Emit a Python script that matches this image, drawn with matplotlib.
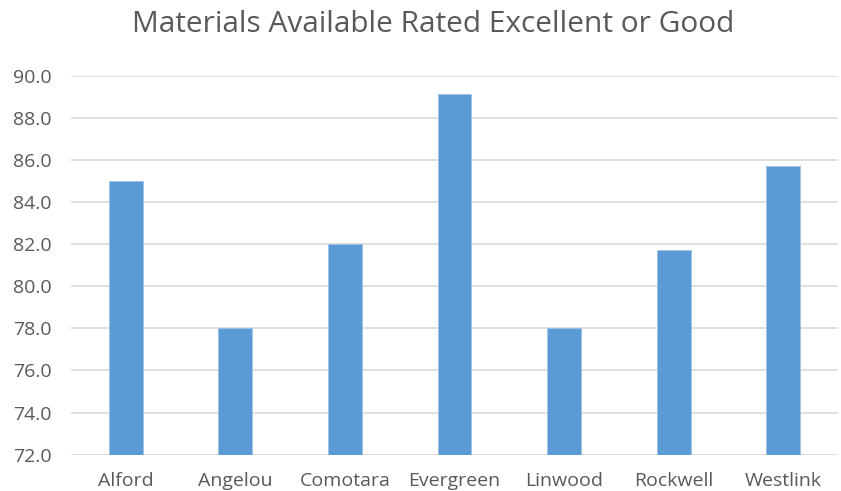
import matplotlib
matplotlib.use("Agg")
import matplotlib.pyplot as plt
import numpy as np

categories = ["Alford", "Angelou", "Comotara", "Evergreen", "Linwood", "Rockwell", "Westlink"]
values = [85.0, 78.0, 82.0, 89.15, 78.0, 81.7, 85.7]
yticks = [72.0, 74.0, 76.0, 78.0, 80.0, 82.0, 84.0, 86.0, 88.0, 90.0]

plt.rcParams["font.family"] = ["Open Sans", "DejaVu Sans"]
text_color = "#595959"

W, H = 841, 491
fig = plt.figure(figsize=(W / 100, H / 100), dpi=100)
ax = fig.add_axes([71 / W, 1 - 454.6 / H, (838 - 71) / W, (454.6 - 75.7) / H])

x = np.arange(len(categories))
ax.bar(x, values, width=0.31, color="#5B9BD5", edgecolor="#9DC3E6", linewidth=0.6, zorder=3)

ax.set_xlim(-0.5, len(categories) - 0.5)
ax.set_ylim(yticks[0], yticks[-1])
ax.set_yticks(yticks)
ax.set_yticklabels([f"{t:.1f}" for t in yticks])
ax.set_xticks(x)
ax.set_xticklabels(categories)
ax.grid(axis="y", color="#D9D9D9", linewidth=1.2, zorder=0)
for s in ax.spines.values():
    s.set_visible(False)
ax.tick_params(axis="both", length=0, colors=text_color, labelsize=14)
ax.tick_params(axis="y", pad=42)
for lbl in ax.get_yticklabels():
    lbl.set_horizontalalignment("left")
# keep category labels low but fully inside the picture
ax.tick_params(axis="x", pad=12.5)

fig.text(433 / W, 1 - 24 / H, "Materials Available Rated Excellent or Good",
         ha="center", va="center", fontsize=21.5, color=text_color)

fig.savefig("out.png", dpi=100)
